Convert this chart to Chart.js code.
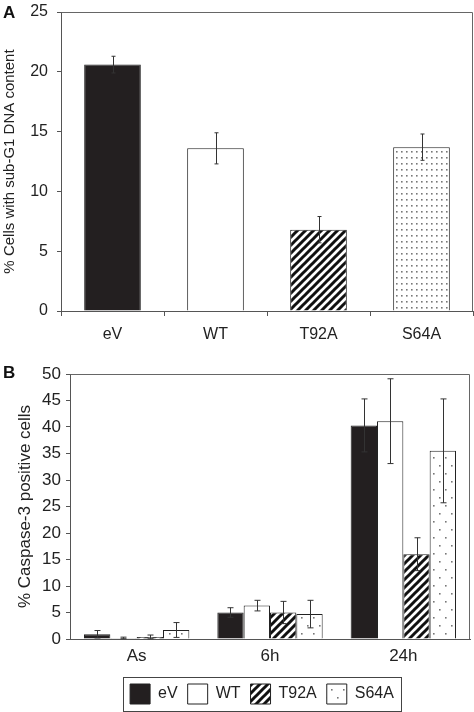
<!DOCTYPE html>
<html>
<head>
<meta charset="utf-8">
<script src="https://cdn.jsdelivr.net/npm/chart.js@4/dist/chart.umd.min.js"></script>
<style>
  body { margin: 0; background: #fff; }
  #wrap { position: relative; width: 474px; height: 712px; overflow: hidden; font-family: "Liberation Sans", Arial, sans-serif; }
  canvas { position: absolute; left: 0; }
  #a { top: 0; }
  #b { top: 360px; }
  .tag { position: absolute; left: 3px; font-weight: bold; font-size: 17px; color: #111; }
</style>
</head>
<body>
<div id="wrap">
  <canvas id="a" width="474" height="350"></canvas>
  <canvas id="b" width="474" height="354"></canvas>
  <div class="tag" style="top:3px">A</div>
  <div class="tag" style="top:363px">B</div>
</div>
<script>
// panel A: sub-G1 DNA content
const catsA = ['eV', 'WT', 'T92A', 'S64A'];
const valsA = [20.6, 13.6, 6.8, 13.7];
const errA = [0.7, 1.3, 1.1, 1.1];

// panel B: caspase-3 positive cells
const catsB = ['As', '6h', '24h'];
const seriesB = ['eV', 'WT', 'T92A', 'S64A'];
const eV = [0.9, 5.0, 40.3];
const WT = [0.2, 6.3, 41.1];
const T92A = [0.4, 5.0, 16.0];
const S64A = [1.7, 4.7, 35.5];
const errEV = [0.7, 0.9, 5.0];
const errWT = [0.15, 1.0, 8.0];
const errT92A = [0.35, 2.1, 3.1];
const errS64A = [1.4, 2.6, 9.8];

Chart.defaults.font.family = '"Liberation Sans", Arial, sans-serif';
Chart.defaults.color = '#222';

function hatch(ctx, step, lw) {
  const c = document.createElement('canvas');
  c.width = c.height = step;
  const x = c.getContext('2d');
  x.fillStyle = '#fff';
  x.fillRect(0, 0, step, step);
  x.strokeStyle = '#111';
  x.lineWidth = lw;
  x.beginPath();
  x.moveTo(-2, step + 2); x.lineTo(step + 2, -2);
  x.moveTo(-2, 2); x.lineTo(2, -2);
  x.moveTo(step - 2, step + 2); x.lineTo(step + 2, step - 2);
  x.stroke();
  return ctx.createPattern(c, 'repeat');
}

function dots(ctx, w, h, stagger) {
  const c = document.createElement('canvas');
  c.width = w;
  c.height = stagger ? h * 2 : h;
  const x = c.getContext('2d');
  x.fillStyle = '#fff';
  x.fillRect(0, 0, c.width, c.height);
  x.fillStyle = '#777';
  x.fillRect(1, 1, 1.6, 1.6);
  if (stagger) x.fillRect(w / 2 + 1, h + 1, 1.6, 1.6);
  return ctx.createPattern(c, 'repeat');
}

const errorBars = {
  id: 'errorBars',
  afterDatasetsDraw(chart, args, opts) {
    const ctx = chart.ctx, y = chart.scales.y;
    ctx.save();
    ctx.strokeStyle = '#333';
    ctx.lineWidth = 1;
    chart.data.datasets.forEach((ds, i) => {
      chart.getDatasetMeta(i).data.forEach((bar, j) => {
        const v = ds.data[j], e = ds.errors[j];
        const x = Math.round(bar.x) + 0.5;
        const top = y.getPixelForValue(v + e);
        const bot = y.getPixelForValue(Math.max(0, v - e));
        ctx.beginPath();
        ctx.moveTo(x, top); ctx.lineTo(x, bot);
        ctx.moveTo(x - opts.cap, top); ctx.lineTo(x + opts.cap, top);
        ctx.moveTo(x - opts.cap, bot); ctx.lineTo(x + opts.cap, bot);
        ctx.stroke();
      });
    });
    ctx.restore();
  }
};

const frame = {
  id: 'frame',
  afterDraw(chart) {
    const a = chart.chartArea, ctx = chart.ctx;
    ctx.save();
    ctx.strokeStyle = '#666';
    ctx.lineWidth = 1;
    ctx.beginPath();
    ctx.moveTo(Math.round(a.left) + 0.5, Math.round(a.top) + 0.5);
    ctx.lineTo(Math.round(a.right) - 0.5, Math.round(a.top) + 0.5);
    ctx.lineTo(Math.round(a.right) - 0.5, Math.round(a.bottom));
    ctx.stroke();
    ctx.restore();
  }
};

const legendBox = {
  id: 'legendBox',
  afterLayout(chart, args, opts) {
    if (!chart.legend) return;
    chart.legend.left += opts.shift;
    chart.legend.right += opts.shift;
  },
  afterDraw(chart) {
    const hb = chart.legend && chart.legend.legendHitBoxes;
    if (!hb || !hb.length) return;
    const l = Math.min(...hb.map(h => h.left)) - 7;
    const r = Math.max(...hb.map(h => h.left + h.width)) + 7;
    const t = Math.min(...hb.map(h => h.top)) - 7;
    const b = Math.max(...hb.map(h => h.top + h.height)) + 7;
    const ctx = chart.ctx;
    ctx.save();
    ctx.strokeStyle = '#444';
    ctx.lineWidth = 1;
    ctx.strokeRect(Math.round(l) + 0.5, Math.round(t) + 0.5, Math.round(r - l), Math.round(b - t));
    ctx.restore();
  }
};

// y axis: fixed width, no extra overflow padding from the tick labels
function fixY(width) {
  return s => { s.width = width; s.paddingTop = 0; s.paddingBottom = 0; };
}

const ctxA = document.getElementById('a').getContext('2d');
new Chart(ctxA, {
  type: 'bar',
  data: {
    labels: catsA,
    datasets: [{
      data: valsA,
      errors: errA,
      backgroundColor: ['#231f20', '#fff', hatch(ctxA, 8, 3), dots(ctxA, 5, 6, false)],
      borderColor: '#222',
      borderWidth: 1,
      barPercentage: 0.55,
      categoryPercentage: 1
    }]
  },
  options: {
    responsive: false,
    animation: false,
    layout: { padding: { top: 12, right: 1, left: 0, bottom: 11 } },
    plugins: { legend: { display: false }, tooltip: { enabled: false }, errorBars: { cap: 2 } },
    scales: {
      x: {
        grid: { drawOnChartArea: false, offset: true, tickLength: 5, color: '#555' },
        border: { color: '#555' },
        ticks: { padding: 9, font: { size: 16 } },
        afterFit(s) { s.height = 28; }
      },
      y: {
        min: 0, max: 25,
        ticks: { stepSize: 5, padding: 9, font: { size: 16 } },
        grid: { drawOnChartArea: false, tickLength: 4, color: '#555' },
        border: { color: '#555' },
        title: { display: true, text: '% Cells with sub-G1 DNA content', font: { size: 15 }, padding: { top: 1, bottom: 0 } },
        afterFit: fixY(61)
      }
    }
  },
  plugins: [errorBars, frame]
});

const ctxB = document.getElementById('b').getContext('2d');
const fillsB = ['#231f20', '#fff', hatch(ctxB, 8, 3), dots(ctxB, 12, 8, true)];
const valsB = [eV, WT, T92A, S64A];
const errsB = [errEV, errWT, errT92A, errS64A];
new Chart(ctxB, {
  type: 'bar',
  data: {
    labels: catsB,
    datasets: seriesB.map((name, i) => ({
      label: name,
      data: valsB[i],
      errors: errsB[i],
      backgroundColor: fillsB[i],
      borderColor: '#222',
      borderWidth: 1,
      barPercentage: 1,
      categoryPercentage: 0.79
    }))
  },
  options: {
    responsive: false,
    animation: false,
    layout: { padding: { top: 14, right: 4, left: 0, bottom: 0 } },
    plugins: {
      tooltip: { enabled: false },
      errorBars: { cap: 3 },
      legendBox: { shift: 27 },
      legend: {
        position: 'bottom',
        labels: { boxWidth: 20, boxHeight: 20, padding: 10, font: { size: 16 } }
      }
    },
    scales: {
      x: {
        grid: { display: false, drawTicks: false },
        border: { color: '#555' },
        ticks: { padding: 7, font: { size: 17 } },
        afterFit(s) { s.height = 35; }
      },
      y: {
        min: 0, max: 50,
        ticks: { stepSize: 5, padding: 5, font: { size: 17 } },
        grid: { drawOnChartArea: false, tickLength: 4, color: '#555' },
        border: { color: '#555' },
        title: { display: true, text: '% Caspase-3 positive cells', font: { size: 17 }, padding: { top: 15, bottom: 0 } },
        afterFit: fixY(70)
      }
    }
  },
  plugins: [errorBars, frame, legendBox]
});
</script>
</body>
</html>
